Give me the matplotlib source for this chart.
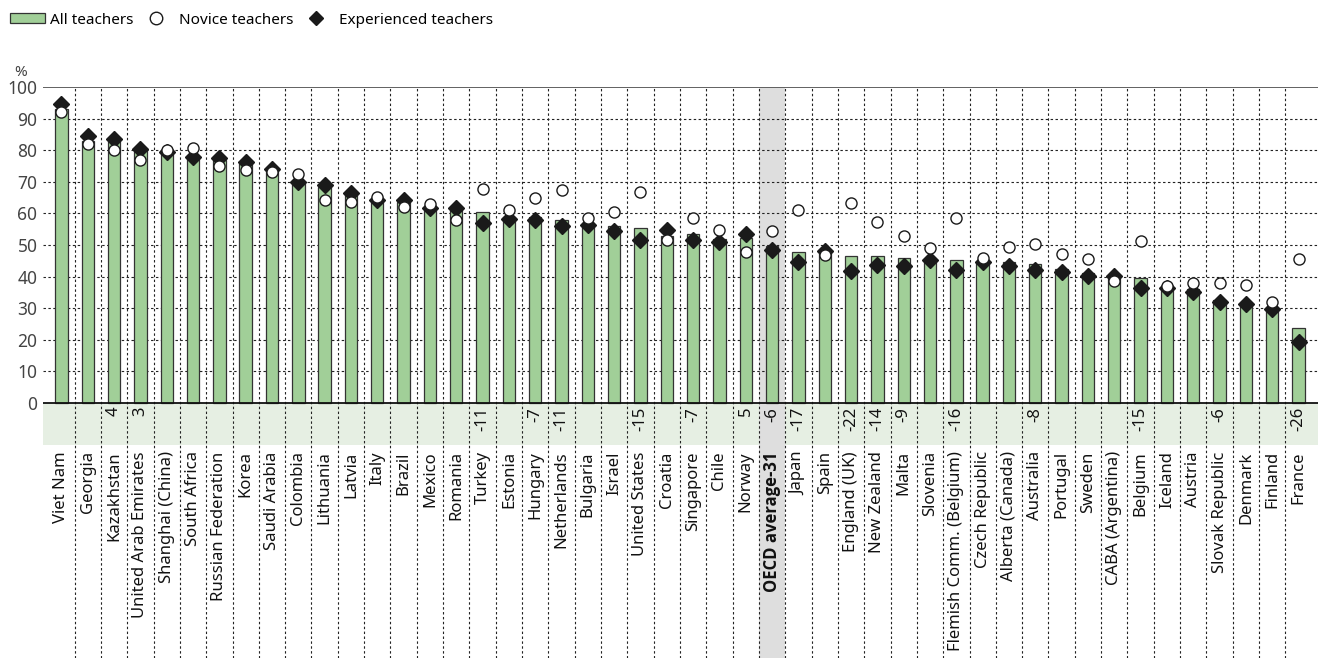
import numpy as np
import matplotlib
matplotlib.use('Agg')
from matplotlib import pyplot as plt
from matplotlib.lines import Line2D
from matplotlib.patches import Patch

plt.rcParams['font.family'] = ['Noto Sans', 'DejaVu Sans']

countries = ['Viet Nam', 'Georgia', 'Kazakhstan', 'United Arab Emirates', 'Shanghai (China)',
             'South Africa', 'Russian Federation', 'Korea', 'Saudi Arabia', 'Colombia',
             'Lithuania', 'Latvia', 'Italy', 'Brazil', 'Mexico', 'Romania', 'Turkey',
             'Estonia', 'Hungary', 'Netherlands', 'Bulgaria', 'Israel', 'United States',
             'Croatia', 'Singapore', 'Chile', 'Norway', 'OECD average-31', 'Japan', 'Spain',
             'England (UK)', 'New Zealand', 'Malta', 'Slovenia', 'Flemish Comm. (Belgium)',
             'Czech Republic', 'Alberta (Canada)', 'Australia', 'Portugal', 'Sweden',
             'CABA (Argentina)', 'Belgium', 'Iceland', 'Austria', 'Slovak Republic',
             'Denmark', 'Finland', 'France']

all_teachers = [93, 83, 83, 80, 80, 78, 77, 76, 74, 70, 68.5, 66, 64.6, 63.5, 62, 61, 60.3,
                59, 59, 57.8, 57, 56.1, 55.5, 53, 53.6, 52, 52.1, 49.6, 47.9, 47.5, 46.6,
                46.4, 46, 45.5, 45.4, 45, 44.7, 44.1, 42.5, 41, 39.5, 39.7, 36.5, 36, 32.5,
                31.5, 30, 23.6]

novice = [92, 82, 80, 77, 80.2, 80.6, 75.1, 73.8, 73, 72.4, 64.3, 63.5, 65.2, 62, 62.9, 58,
          67.7, 61.2, 64.8, 67.5, 58.4, 60.5, 66.7, 51.7, 58.4, 54.6, 47.9, 54.4, 61.2, 46.8,
          63.3, 57.4, 52.7, 48.9, 58.6, 46, 49.4, 50.4, 47, 45.6, 38.6, 51.3, 36.9, 38, 38,
          37.3, 32.1, 45.6]

experienced = [94.7, 84.6, 83.6, 80.4, 79.3, 78, 77.4, 76.4, 74, 69.8, 69, 66.5, 64.3, 64.3,
               61.6, 61.6, 57, 58.2, 58, 55.9, 56.3, 54.4, 51.7, 54.9, 51.5, 51.1, 53.4, 48.5,
               44.5, 48.1, 41.8, 43.7, 43.5, 45.1, 42.2, 44.5, 43.2, 42.2, 41.6, 40.1, 40.3,
               36.5, 36.3, 35.2, 32.1, 31.2, 29.7, 19.4]

# significant differences (experienced - novice), '' where not significant
diff_labels = ['', '', '4', '3', '', '', '', '', '', '', '', '', '', '', '', '', '-11', '',
               '-7', '-11', '', '', '-15', '', '-7', '', '5', '-6', '-17', '', '-22', '-14',
               '-9', '', '-16', '', '', '-8', '', '', '', '-15', '', '', '-6', '', '', '-26']

oecd_idx = countries.index('OECD average-31')
x = np.arange(len(countries))

fig = plt.figure(figsize=(13.22, 6.58), dpi=100)
ax = fig.add_axes([43/1322, 0, 1275/1322, 1 - 87/658])

ymin = -(658 - 403) / 3.16
ax.set_ylim(ymin, 100)
ax.set_xlim(-0.7, len(countries) - 1 + 0.74)

# band for difference labels and the OECD highlight
ax.axhspan(-13.3, 0, color='#e6efe3', zorder=0, lw=0)
ax.axvspan(oecd_idx - 0.5, oecd_idx + 0.5, color='#dedede', zorder=0.5, lw=0)

# grid
for yv in range(10, 100, 10):
    ax.plot([-0.7, len(countries) + 1], [yv, yv], color='#222222', lw=0.8,
            dashes=(2.2, 2.2), zorder=1)
for xv in np.arange(0.5, len(countries) - 1, 1):
    ax.plot([xv, xv], [ymin, 100], color='#222222', lw=0.8, dashes=(2.2, 2.2), zorder=1)
ax.axhline(100, color='#555555', lw=1.3, zorder=2)
ax.axhline(0, color='#111111', lw=1.3, zorder=4)

ax.bar(x, all_teachers, width=0.47, color='#a1cf98', edgecolor='#333333', lw=0.9, zorder=3)
ax.plot(x, experienced, 'D', color='#1a1a1a', ms=8, zorder=5, ls='none')
ax.plot(x, novice, 'o', mfc='white', mec='#1a1a1a', mew=1.0, ms=8, zorder=6, ls='none')

for i, name in enumerate(countries):
    if i == oecd_idx:
        ax.text(i, -15.3, name, rotation=90, ha='center', va='top', fontsize=12,
                fontweight='bold', color='#111111', family=['Open Sans', 'DejaVu Sans'])
    else:
        ax.text(i, -15.3, name, rotation=90, ha='center', va='top', fontsize=12,
                color='#111111')
    if diff_labels[i]:
        ax.text(i, -1.2, diff_labels[i], rotation=90, ha='center', va='top', fontsize=12,
                color='#111111')

ax.set_xticks([])
ax.set_yticks(range(0, 101, 10))
ax.tick_params(axis='y', length=0, pad=4, labelsize=12.5, labelcolor='#444444')
for s in ax.spines.values():
    s.set_visible(False)

fig.text(14/1322, 1 - 72/658, '%', fontsize=11, color='#444444', va='center')

handles = [Patch(facecolor='#a1cf98', edgecolor='#333333', lw=0.9),
           Line2D([], [], marker='o', ls='none', mfc='white', mec='#1a1a1a', ms=9),
           Line2D([], [], marker='D', ls='none', color='#1a1a1a', ms=7)]
fig.legend(handles, ['All teachers', 'Novice teachers', 'Experienced teachers'],
           loc='center left', bbox_to_anchor=(10/1322, 1 - 20/658), ncol=3, frameon=False,
           fontsize=11, handlelength=2.3, handleheight=0.6, columnspacing=0.3,
           handletextpad=0.35, borderaxespad=0.0, borderpad=0.0)

fig.savefig('out.png', dpi=100)
